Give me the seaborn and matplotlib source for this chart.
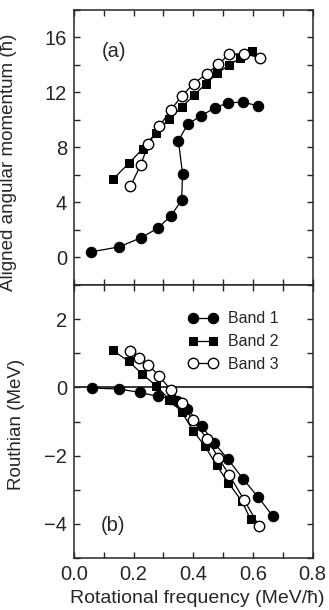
import numpy as np
import pandas as pd
import seaborn as sns
import matplotlib.pyplot as plt
from matplotlib.ticker import MultipleLocator

# dados
# (a) momento angular alinhado
b1_w = [0.058, 0.151, 0.224, 0.282, 0.325, 0.361, 0.364, 0.350, 0.381, 0.427, 0.473, 0.517, 0.567, 0.617]
b1_ix = [0.40, 0.76, 1.42, 2.13, 3.03, 4.15, 6.08, 8.48, 9.67, 10.31, 10.87, 11.24, 11.28, 11.02]

b2_w = [0.131, 0.184, 0.230, 0.274, 0.320, 0.362, 0.402, 0.441, 0.480, 0.520, 0.556, 0.596]
b2_ix = [5.69, 6.84, 7.89, 9.04, 10.09, 10.94, 11.77, 12.60, 13.38, 13.97, 14.48, 14.97]

b3_w = [0.189, 0.224, 0.249, 0.286, 0.324, 0.362, 0.401, 0.446, 0.484, 0.521, 0.570, 0.625]
b3_ix = [5.16, 6.74, 8.21, 9.53, 10.70, 11.75, 12.63, 13.36, 14.04, 14.78, 14.80, 14.51]

# (b) routhian
r1_w = [0.059, 0.152, 0.221, 0.280, 0.325, 0.345, 0.380, 0.428, 0.469, 0.517, 0.566, 0.618, 0.666]
r1_e = [-0.02, -0.05, -0.15, -0.26, -0.33, -0.40, -0.63, -1.12, -1.62, -2.11, -2.67, -3.22, -3.76]

r2_w = [0.130, 0.184, 0.227, 0.275, 0.320, 0.362, 0.400, 0.439, 0.478, 0.517, 0.562, 0.592]
r2_e = [1.08, 0.76, 0.40, 0.05, -0.36, -0.73, -1.28, -1.72, -2.28, -2.79, -3.32, -3.86]

r3_w = [0.188, 0.219, 0.249, 0.285, 0.324, 0.361, 0.400, 0.447, 0.484, 0.521, 0.570, 0.621]
r3_e = [1.05, 0.86, 0.66, 0.34, -0.07, -0.46, -0.97, -1.52, -2.06, -2.57, -3.29, -4.07]

labels = ['Band 1', 'Band 2', 'Band 3']

sns.set_style('ticks')
plt.rcParams['font.family'] = ['Liberation Sans', 'DejaVu Sans']
plt.rcParams['axes.linewidth'] = 1.1

fig = plt.figure(figsize=(3.29, 6.10), dpi=100)
ax1 = fig.add_axes([0.225, 0.533, 0.725, 0.451])
ax2 = fig.add_axes([0.225, 0.085, 0.725, 0.448])

estilos = [
    dict(marker='o', markersize=7.5, markerfacecolor='black', markeredgecolor='black'),
    dict(marker='s', markersize=6.3, markerfacecolor='black', markeredgecolor='black'),
    dict(marker='o', markersize=7.5, markerfacecolor='white', markeredgecolor='black', markeredgewidth=1.0),
]

series_a = [(b1_w, b1_ix), (b2_w, b2_ix), (b3_w, b3_ix)]
series_b = [(r1_w, r1_e), (r2_w, r2_e), (r3_w, r3_e)]

for (x, y), st in zip(series_a, estilos):
    sns.lineplot(x=x, y=y, sort=False, color='black', linewidth=0.9, ax=ax1, **st)

for (x, y), st, lab in zip(series_b, estilos, labels):
    sns.lineplot(x=x, y=y, sort=False, color='black', linewidth=0.9, ax=ax2, label=lab, **st)

ax2.axhline(0, color='black', linewidth=1.1, zorder=0)

for ax in (ax1, ax2):
    ax.set_xlim(0, 0.8)
    ax.xaxis.set_major_locator(MultipleLocator(0.2))
    ax.xaxis.set_minor_locator(MultipleLocator(0.1))
    ax.tick_params(which='both', direction='in', top=True, right=True,
                   length=4.5, width=1.0, labelsize=14.5, pad=5)

ax1.set_ylim(-2, 18)
ax1.yaxis.set_minor_locator(MultipleLocator(2))
ax1.set_yticks([0, 4, 8, 12, 16])
ax1.tick_params(labelbottom=False)
ax1.set_ylabel('Aligned angular momentum (ħ)', fontsize=13.5)
ax1.text(0.094, 15.0, '(a)', fontsize=14.5, va='center', ha='left')

ax2.set_ylim(-5, 3)
ax2.yaxis.set_minor_locator(MultipleLocator(1))
ax2.set_yticks([-4, -2, 0, 2])
ax2.set_yticklabels(['\u22124', '\u22122', '0', '2'])
ax2.set_xticks([0.0, 0.2, 0.4, 0.6, 0.8])
ax2.set_xticklabels(['0.0', '0.2', '0.4', '0.6', '0.8'])
ax2.set_ylabel('Routhian (MeV)', fontsize=13.5)
ax2.set_xlabel('Rotational frequency (MeV/ħ)', fontsize=14)
ax2.text(0.088, -4.03, '(b)', fontsize=14.5, va='center', ha='left')

leg = ax2.legend(loc='upper left', bbox_to_anchor=(0.478, 0.904), frameon=False,
                 numpoints=2, handlelength=1.85, handletextpad=0.63,
                 labelspacing=0.5, fontsize=11.5, borderpad=0, borderaxespad=0)

ax1.yaxis.set_label_coords(-0.24, 0.445)
ax2.yaxis.set_label_coords(-0.205, 0.49)
ax2.xaxis.set_label_coords(0.517, -0.115)

fig.savefig('out.png', dpi=100)
